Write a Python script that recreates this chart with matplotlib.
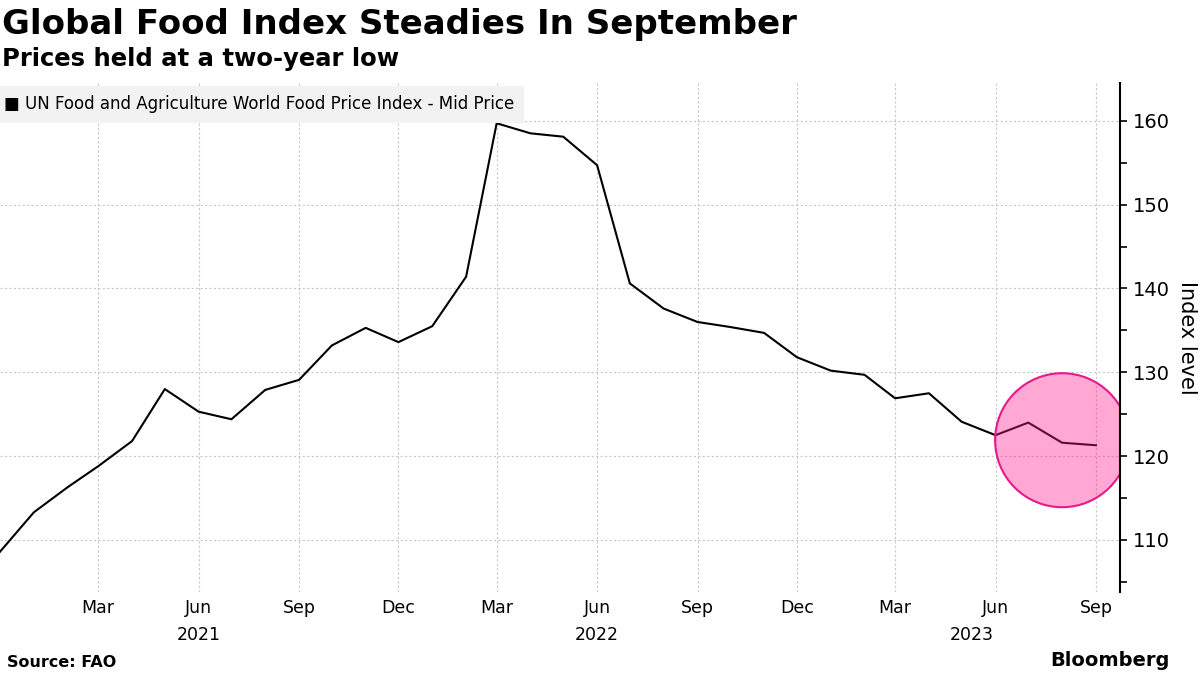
import matplotlib.pyplot as plt
import matplotlib.dates as mdates
import matplotlib.transforms as mtransforms
from matplotlib.patches import Ellipse
import pandas as pd

plt.rcParams['font.family'] = ['DejaVu Sans']

# monthly FAO food price index, Dec 2020 - Sep 2023
months = pd.date_range('2020-12-01', periods=34, freq='MS')
index_level = [108.6, 113.3, 116.3, 118.8, 121.8, 128.0, 125.3, 124.4, 127.9, 129.1,
               133.2, 135.3, 133.6, 135.5, 141.4, 159.7, 158.5, 158.1, 154.7, 140.6,
               137.6, 136.0, 135.4, 134.7, 131.8, 130.2, 129.7, 126.9, 127.5, 124.1,
               122.5, 124.0, 121.6, 121.3]

tick_months = pd.date_range('2021-03-01', '2023-09-01', freq='3MS')
tick_labels = [d.strftime('%b') for d in tick_months]
year_labels = ['2021', '2022', '2023']
year_pos = [pd.Timestamp('2021-06-01'), pd.Timestamp('2022-06-01'), pd.Timestamp('2023-05-10')]

highlight_date = pd.Timestamp('2023-08-01')
highlight_value = 121.9

fig = plt.figure(figsize=(12, 6.75), dpi=100)
ax = fig.add_axes([0.0, 0.123, 0.9333, 0.754])

ax.plot(months, index_level, color='black', lw=1.5, zorder=2)

x0, x1 = mdates.date2num(months[0]), mdates.date2num(pd.Timestamp('2023-09-23'))
y0, y1 = 103.8, 164.5
ax.set_xlim(x0, x1)
ax.set_ylim(y0, y1)

# pink highlight circle (round in pixels), translucent over the line
radius_px = 67
ax_w = fig.get_figwidth() * fig.dpi * 0.9333
ax_h = fig.get_figheight() * fig.dpi * 0.754
circle = Ellipse((mdates.date2num(highlight_date), highlight_value),
                 width=2 * radius_px * (x1 - x0) / ax_w,
                 height=2 * radius_px * (y1 - y0) / ax_h,
                 facecolor=(1.0, 0.1, 0.55, 0.38), edgecolor='#e8198b',
                 linewidth=1.5, zorder=3)
ax.add_patch(circle)

ax.xaxis_date()
ax.set_xticks(mdates.date2num(tick_months))
ax.set_xticklabels(tick_labels, fontsize=12.5)
ax.tick_params(axis='x', length=0, pad=5)

ax.yaxis.tick_right()
ax.yaxis.set_label_position('right')
ax.set_yticks([110, 120, 130, 140, 150, 160])
ax.set_yticks([105, 115, 125, 135, 145, 155], minor=True)
ax.tick_params(axis='y', which='major', length=5, width=1.2, labelsize=14, pad=4)
ax.tick_params(axis='y', which='minor', length=5, width=1.2)
ax.set_ylabel('Index level', fontsize=15, rotation=-90, labelpad=20)

for s in ['top', 'left', 'bottom']:
    ax.spines[s].set_visible(False)
ax.spines['right'].set_linewidth(1.5)
ax.spines['right'].set_zorder(4)

ax.grid(True, which='major', color='#c8c8c8', linestyle=(0, (2, 2)), linewidth=0.8)
ax.set_axisbelow(True)

trans = mtransforms.blended_transform_factory(ax.transData, ax.transAxes)
for lab, pos in zip(year_labels, year_pos):
    ax.text(mdates.date2num(pos), -0.066, lab, transform=trans, ha='center', va='top',
            fontsize=12.5)

# legend box
ax.text(0.004, 0.958, '\u25A0 UN Food and Agriculture World Food Price Index - Mid Price',
        transform=ax.transAxes, fontsize=12, va='center', ha='left',
        bbox=dict(boxstyle='square,pad=0.55', facecolor='#f2f2f2', edgecolor='none'),
        zorder=5)

fig.text(0.002, 0.963, 'Global Food Index Steadies In September', fontsize=24.5,
         fontweight='bold', va='center', ha='left')
fig.text(0.002, 0.912, 'Prices held at a two-year low', fontsize=17.5,
         fontweight='bold', va='center', ha='left')
fig.text(0.006, 0.018, 'Source: FAO', fontsize=11.5, fontweight='bold', va='center', ha='left')
fig.text(0.975, 0.022, 'Bloomberg', fontsize=14, fontweight='bold', va='center', ha='right')

fig.savefig('out.png', dpi=100)
